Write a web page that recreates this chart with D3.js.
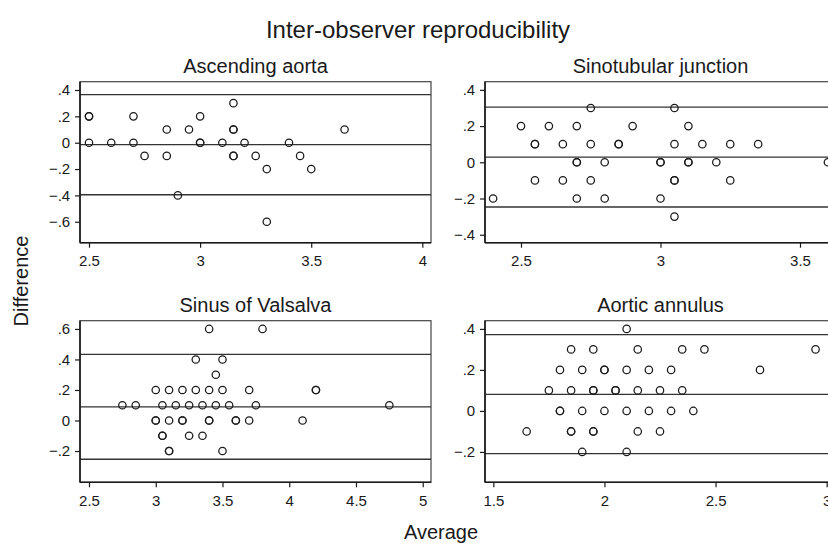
<!DOCTYPE html>
<html>
<head>
<meta charset="utf-8">
<script src="https://cdn.jsdelivr.net/npm/d3@7"></script>
<style>
  html, body { margin: 0; padding: 0; background: #fff; }
  svg { display: block; font-family: "Liberation Sans", Arial, sans-serif; }
</style>
</head>
<body>
<svg id="chart" width="828" height="546"></svg>
<script>
// Panel titles
const panelTitles = ["Ascending aorta", "Sinotubular junction", "Sinus of Valsalva", "Aortic annulus"];

// [average, difference] per subject
const ascendingAorta = [
  [2.5, 0.2], [2.5, 0.2], [2.5, 0], [2.6, 0], [2.7, 0.2], [2.7, 0], [2.75, -0.1], [2.85, 0.1],
  [2.85, -0.1], [2.9, -0.4], [2.95, 0.1], [3.0, 0.2], [3.0, 0], [3.0, 0], [3.1, 0], [3.15, 0.3],
  [3.15, 0.1], [3.15, 0.1], [3.15, -0.1], [3.15, -0.1], [3.2, 0], [3.25, -0.1], [3.3, -0.2],
  [3.3, -0.6], [3.4, 0], [3.45, -0.1], [3.5, -0.2], [3.65, 0.1]
];
const sinotubular = [
  [2.4, -0.2], [2.5, 0.2], [2.55, 0.1], [2.55, 0.1], [2.55, -0.1], [2.6, 0.2], [2.65, 0.1],
  [2.65, -0.1], [2.7, 0.2], [2.7, 0], [2.7, 0], [2.7, -0.2], [2.75, 0.3], [2.75, 0.1], [2.75, -0.1],
  [2.8, 0], [2.8, -0.2], [2.85, 0.1], [2.85, 0.1], [2.9, 0.2], [3.0, 0], [3.0, 0], [3.0, -0.2],
  [3.05, 0.3], [3.05, 0.1], [3.05, -0.1], [3.05, -0.1], [3.05, -0.3], [3.1, 0.2], [3.1, 0],
  [3.1, 0], [3.15, 0.1], [3.2, 0], [3.25, 0.1], [3.25, -0.1], [3.35, 0.1], [3.6, 0]
];
const sinusValsalva = [
  [2.75, 0.1], [2.85, 0.1], [3.0, 0.2], [3.0, 0], [3.0, 0], [3.05, 0.1], [3.05, -0.1], [3.05, -0.1],
  [3.1, 0.2], [3.1, 0], [3.1, -0.2], [3.1, -0.2], [3.15, 0.1], [3.2, 0.2], [3.2, 0], [3.2, 0],
  [3.25, 0.1], [3.25, -0.1], [3.3, 0.4], [3.3, 0.2], [3.35, 0.1], [3.35, -0.1], [3.4, 0.6],
  [3.4, 0.2], [3.4, 0], [3.4, 0], [3.45, 0.3], [3.45, 0.1], [3.5, 0.4], [3.5, 0.2], [3.5, -0.2],
  [3.55, 0.1], [3.6, 0], [3.6, 0], [3.7, 0.2], [3.7, 0], [3.75, 0.1], [3.8, 0.6], [4.1, 0],
  [4.2, 0.2], [4.2, 0.2], [4.75, 0.1]
];
const aorticAnnulus = [
  [1.65, -0.1], [1.75, 0.1], [1.8, 0.2], [1.8, 0], [1.8, 0], [1.85, 0.3], [1.85, 0.1], [1.85, -0.1],
  [1.85, -0.1], [1.9, 0.2], [1.9, 0], [1.9, -0.2], [1.95, 0.3], [1.95, 0.1], [1.95, 0.1],
  [1.95, -0.1], [1.95, -0.1], [2.0, 0.2], [2.0, 0.2], [2.0, 0], [2.05, 0.1], [2.05, 0.1],
  [2.1, 0.4], [2.1, 0.2], [2.1, 0], [2.1, -0.2], [2.15, 0.3], [2.15, 0.1], [2.15, -0.1],
  [2.2, 0.2], [2.2, 0], [2.25, 0.1], [2.25, -0.1], [2.3, 0.2], [2.3, 0], [2.35, 0.3], [2.35, 0.1],
  [2.4, 0], [2.45, 0.3], [2.7, 0.2], [2.95, 0.3]
];

// limits of agreement: [upper, mean difference, lower]
const ascendingLimits = [0.365, -0.015, -0.395];
const sinotubularLimits = [0.305, 0.029, -0.247];
const valsalvaLimits = [0.433, 0.089, -0.254];
const annulusLimits = [0.372, 0.081, -0.208];

// axis domains and tick labels
const xDomains = [[2.4595, 4.039], [2.371, 3.629], [2.4326, 5.062], [1.4626, 3.042]];
const yDomains = [[-0.759, 0.463], [-0.444, 0.445], [-0.405, 0.654], [-0.348, 0.44]];
const xTicks = [[2.5, 3, 3.5, 4], [2.5, 3, 3.5], [2.5, 3, 3.5, 4, 4.5, 5], [1.5, 2, 2.5, 3]];
const yTicks = [[0.4, 0.2, 0, -0.2, -0.4, -0.6], [0.4, 0.2, 0, -0.2, -0.4], [0.6, 0.4, 0.2, 0, -0.2], [0.4, 0.2, 0, -0.2]];

const panelData = [ascendingAorta, sinotubular, sinusValsalva, aorticAnnulus];
const panelLimits = [ascendingLimits, sinotubularLimits, valsalvaLimits, annulusLimits];

// pixel boxes of each plot region (left, top, right, bottom)
const boxes = [
  [80, 81.7, 431, 242.7], [485, 81.7, 836, 242.7],
  [80, 320.7, 431, 482.3], [485, 320.7, 836, 482.3]
];

const svg = d3.select("#chart");
const ink = "#1a1a1a";

// Stata style: ".4", "-.2", "0"
const fmtY = d => d === 0 ? "0" : d3.format(".1f")(d).replace("0.", ".");
const fmtX = d3.format("~g");

svg.append("text")
  .attr("x", 418).attr("y", 38)
  .attr("text-anchor", "middle")
  .attr("font-size", 24)
  .attr("fill", ink)
  .text("Inter-observer reproducibility");

panelTitles.forEach((title, i) => {
  const [x0, y0, x1, y1] = boxes[i];
  const x = d3.scaleLinear().domain(xDomains[i]).range([x0, x1]);
  const y = d3.scaleLinear().domain(yDomains[i]).range([y1, y0]);
  const g = svg.append("g");

  // subplot title
  g.append("text")
    .attr("x", (x0 + x1) / 2).attr("y", y0 - 9)
    .attr("text-anchor", "middle")
    .attr("font-size", 20)
    .attr("fill", ink)
    .text(title);

  // plot region outline
  g.append("rect")
    .attr("x", x0).attr("y", y0)
    .attr("width", x1 - x0).attr("height", y1 - y0)
    .attr("fill", "none")
    .attr("stroke", "#444")
    .attr("stroke-width", 1.2);

  // limits of agreement and mean line
  g.selectAll("line.loa")
    .data(panelLimits[i])
    .enter().append("line")
    .attr("class", "loa")
    .attr("x1", x0).attr("x2", x1)
    .attr("y1", d => y(d)).attr("y2", d => y(d))
    .attr("stroke", "#333")
    .attr("stroke-width", 1.3);

  // axes
  const xAxis = d3.axisBottom(x).tickValues(xTicks[i]).tickFormat(fmtX).tickSize(5).tickSizeOuter(0);
  const yAxis = d3.axisLeft(y).tickValues(yTicks[i]).tickFormat(fmtY).tickSize(5).tickSizeOuter(0);

  const gx = g.append("g").attr("transform", `translate(0,${y1})`).call(xAxis);
  const gy = g.append("g").attr("transform", `translate(${x0},0)`).call(yAxis);
  [gx, gy].forEach(a => {
    a.select(".domain").attr("stroke", ink).attr("stroke-width", 1.6);
    a.selectAll(".tick line").attr("stroke", ink).attr("stroke-width", 1.2);
    a.selectAll(".tick text")
      .attr("font-family", "'Liberation Sans', Arial, sans-serif")
      .attr("font-size", 15)
      .attr("fill", ink);
  });
  gx.select(".domain").attr("d", `M${x0},0H${x1}`);
  gy.select(".domain").attr("d", `M0,${y0}V${y1}`);
  gx.selectAll(".tick text").attr("dy", "1.05em");
  gy.selectAll(".tick text").attr("dx", "-0.12em");

  // hollow markers
  g.selectAll("circle")
    .data(panelData[i])
    .enter().append("circle")
    .attr("cx", d => x(d[0]))
    .attr("cy", d => y(d[1]))
    .attr("r", 3.7)
    .attr("fill", "none")
    .attr("stroke", ink)
    .attr("stroke-width", 1.25);
});

// shared axis titles
svg.append("text")
  .attr("transform", "translate(28,281) rotate(-90)")
  .attr("text-anchor", "middle")
  .attr("font-size", 20)
  .attr("fill", ink)
  .text("Difference");

svg.append("text")
  .attr("x", 441).attr("y", 539)
  .attr("text-anchor", "middle")
  .attr("font-size", 20)
  .attr("fill", ink)
  .text("Average");
</script>
</body>
</html>
